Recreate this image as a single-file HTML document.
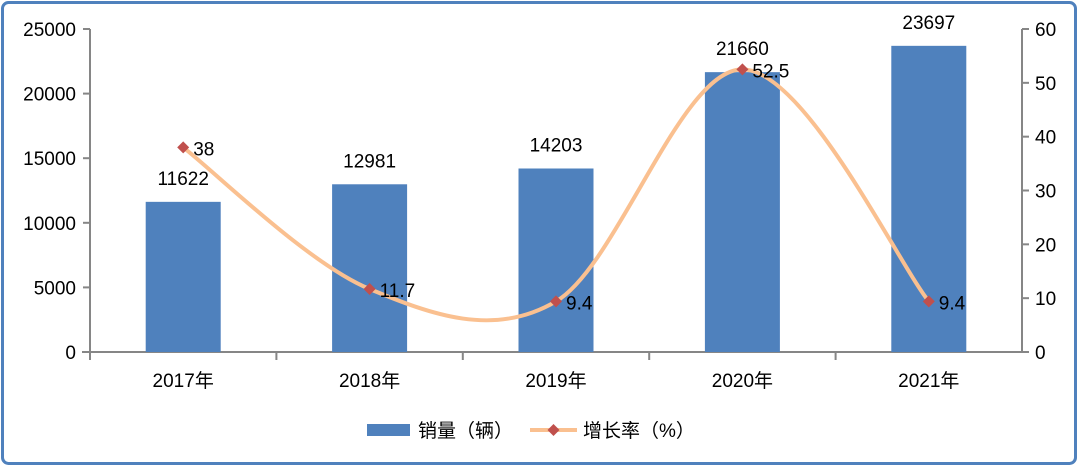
<!DOCTYPE html>
<html><head><meta charset="utf-8">
<style>
html,body{margin:0;padding:0;background:#fff;}
svg{display:block;font-family:"Liberation Sans","Noto Sans CJK SC",sans-serif;}
</style></head>
<body>
<svg id="chart" width="1080" height="468" viewBox="0 0 1080 468">
  <rect x="2.5" y="2.5" width="1073" height="461" rx="6" fill="#fff" stroke="#4F81BD" stroke-width="3"/>
  <g id="axes"></g>
  <g id="bars"></g>
  <g id="line"></g>
  <g id="labels"></g>
  <g>
    <rect x="367" y="424" width="43" height="12" fill="#4F81BD"/>
    <text x="418" y="437" font-size="19" fill="#000">销量（辆）</text>
    <line x1="530" y1="430" x2="577" y2="430" stroke="#FAC090" stroke-width="4"/>
    <path d="M553.5 424 L559.5 430 L553.5 436 L547.5 430 Z" fill="#C0504D"/>
    <text x="583" y="437" font-size="19" fill="#000">增长率（%）</text>
  </g>
</svg>
<script>
const categories = ["2017年","2018年","2019年","2020年","2021年"];
const sales = [11622, 12981, 14203, 21660, 23697];
const growth = [38, 11.7, 9.4, 52.5, 9.4];
const leftTicks = [0,5000,10000,15000,20000,25000];
const rightTicks = [0,10,20,30,40,50,60];

const NS="http://www.w3.org/2000/svg";
const X0=90, X1=1022, Y0=352, Y1=29;
const band=(X1-X0)/categories.length;
const xc=i=>X0+band*(i+0.5);
const yL=v=>Y0-(v/25000)*(Y0-Y1);
const yR=v=>Y0-(v/60)*(Y0-Y1);
function mk(tag,attrs,parent,txt){const e=document.createElementNS(NS,tag);for(const k in attrs)e.setAttribute(k,attrs[k]);if(txt!==undefined)e.textContent=txt;parent.appendChild(e);return e;}
const axes=document.getElementById('axes'),bars=document.getElementById('bars'),line=document.getElementById('line'),labels=document.getElementById('labels');

// axes
let e=mk('line',{x1:X0,y1:Y1,x2:X0,y2:Y0+8,stroke:'#868686','stroke-width':2},axes);


e=mk('line',{x1:X1,y1:Y1,x2:X1,y2:Y0,stroke:'#868686','stroke-width':2},axes);


e=mk('line',{x1:X0-8,y1:Y0,x2:X1,y2:Y0,stroke:'#868686','stroke-width':2},axes);


leftTicks.forEach(v=>{
  const y=yL(v);
  mk('line',{x1:X0-7,y1:y,x2:X0,y2:y,stroke:'#868686','stroke-width':2},axes);
  const t=mk('text',{x:76,y:y+7,'text-anchor':'end','font-size':19,fill:'#000'},axes,String(v));
  
  
});
rightTicks.forEach(v=>{
  const y=yR(v);
  mk('line',{x1:X1,y1:y,x2:X1+7,y2:y,stroke:'#868686','stroke-width':2},axes);
  const t=mk('text',{x:1035,y:y+7,'font-size':19,fill:'#000'},axes,String(v));
  
  
});
categories.forEach((c,i)=>{
  const bx=X0+band*(i+1);
  if(i<categories.length-1) mk('line',{x1:bx,y1:Y0,x2:bx,y2:Y0+8,stroke:'#868686','stroke-width':2},axes);
  const t=mk('text',{x:xc(i),y:387,'text-anchor':'middle','font-size':19,fill:'#000'},axes,c);
  
  
});

// bars
const bw=75;
sales.forEach((v,i)=>{
  const r=mk('rect',{x:xc(i)-bw/2,y:yL(v),width:bw,height:Y0-yL(v),fill:'#4F81BD'},bars);
  
  
  const t=mk('text',{x:xc(i),y:yL(v)-17,'text-anchor':'middle','font-size':19,fill:'#000'},labels,String(v));
  
  
});

// smooth line (catmull-rom)
const pts=growth.map((v,i)=>[xc(i),yR(v)]);
let d='M'+pts[0][0]+' '+pts[0][1];
const tn=0.5;
for(let i=0;i<pts.length-1;i++){
  const p0=pts[i-1]||pts[i],p1=pts[i],p2=pts[i+1],p3=pts[i+2]||pts[i+1];
  const c1=[p1[0]+(p2[0]-p0[0])*tn/3,p1[1]+(p2[1]-p0[1])*tn/3];
  const c2=[p2[0]-(p3[0]-p1[0])*tn/3,p2[1]-(p3[1]-p1[1])*tn/3];
  d+=` C${c1[0]} ${c1[1]} ${c2[0]} ${c2[1]} ${p2[0]} ${p2[1]}`;
}
const path=mk('path',{d:d,fill:'none',stroke:'#FAC090','stroke-width':4,'stroke-linecap':'round'},line);


pts.forEach((p,i)=>{
  const m=mk('path',{d:`M${p[0]} ${p[1]-6} L${p[0]+6} ${p[1]} L${p[0]} ${p[1]+6} L${p[0]-6} ${p[1]} Z`,fill:'#C0504D'},line);
  
  
  const t=mk('text',{x:p[0]+10,y:p[1]+8,'font-size':19,fill:'#000'},labels,String(growth[i]));
  
  
});
</script>
</body></html>
